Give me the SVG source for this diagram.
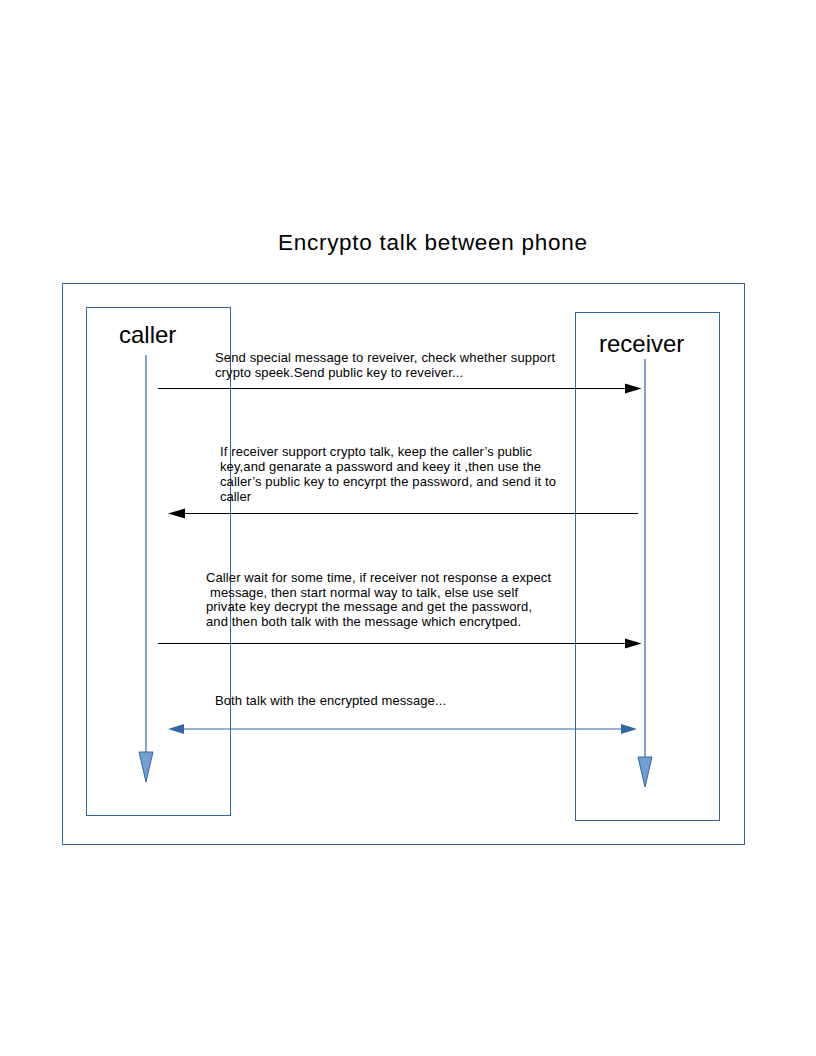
<svg xmlns="http://www.w3.org/2000/svg" width="816" height="1056" viewBox="0 0 816 1056">
<style>
.box{fill:none;stroke:#3465a4;stroke-width:1}
.life{stroke:#3465a4;stroke-width:1.2;fill:none}
.lhead{fill:#729fcf;stroke:#3465a4;stroke-width:1}
.msg{stroke:#000;stroke-width:1;fill:none}
.bmsg{stroke:#3465a4;stroke-width:1.2;fill:none}
.t{font-family:"Liberation Sans",Arial,sans-serif;fill:#000}
.s{font-size:13px}
.n{font-size:24px}
</style>
<rect width="816" height="1056" fill="#fff"/>
<text class="t" x="278" y="250" font-size="22.5" textLength="309" lengthAdjust="spacing">Encrypto talk between phone</text>
<g id="frame"><rect class="box" x="62.5" y="283.5" width="682" height="561"/></g>
<g id="caller">
<rect class="box" x="86.5" y="307.5" width="144" height="508"/>
<text class="t n" x="119" y="343">caller</text>
</g>
<g id="receiver">
<rect class="box" x="575.5" y="312.5" width="144" height="508"/>
<text class="t n" x="599" y="352">receiver</text>
</g>
<g id="connectors">
<line class="life" x1="146" y1="355" x2="146" y2="752"/>
<polygon class="lhead" points="139,752 153,752 146,782"/>
<line class="life" x1="645" y1="359" x2="645" y2="757"/>
<polygon class="lhead" points="638,757 652,757 645,787"/>
<line class="msg" x1="158" y1="388.5" x2="626" y2="388.5"/>
<polygon points="625,383.5 641.5,388.5 625,393.5" fill="#000"/>
<line class="msg" x1="638" y1="513.5" x2="184" y2="513.5"/>
<polygon points="185,508.5 168,513.5 185,518.5" fill="#000"/>
<line class="msg" x1="158" y1="643.5" x2="626" y2="643.5"/>
<polygon points="625,638.5 641.5,643.5 625,648.5" fill="#000"/>
<line class="bmsg" x1="183" y1="729" x2="622" y2="729"/>
<polygon points="184,724 168,729 184,734" fill="#3465a4"/>
<polygon points="621,724 637,729 621,734" fill="#3465a4"/>
</g>
<g id="labels">
<text class="t s" x="215" y="362" textLength="340" lengthAdjust="spacing">Send special message to reveiver, check whether support</text>
<text class="t s" x="215" y="377" textLength="248" lengthAdjust="spacing">crypto speek.Send public key to reveiver...</text>
<text class="t s" x="220" y="456" textLength="312" lengthAdjust="spacing">If receiver support crypto talk, keep the caller’s public</text>
<text class="t s" x="220" y="471" textLength="321" lengthAdjust="spacing">key,and genarate a password and keey it ,then use the</text>
<text class="t s" x="220" y="486" textLength="336" lengthAdjust="spacing">caller’s public key to encyrpt the password, and send it to</text>
<text class="t s" x="220" y="501" textLength="31" lengthAdjust="spacing">caller</text>
<text class="t s" x="206" y="582" textLength="345" lengthAdjust="spacing">Caller wait for some time, if receiver not response a expect</text>
<text class="t s" x="210" y="596.5" textLength="308" lengthAdjust="spacing">message, then start normal way to talk, else use self</text>
<text class="t s" x="206" y="611" textLength="326" lengthAdjust="spacing">private key decrypt the message and get the password,</text>
<text class="t s" x="206" y="625.5" textLength="315" lengthAdjust="spacing">and then both talk with the message which encrytped.</text>
<text class="t s" x="215" y="705" textLength="231" lengthAdjust="spacing">Both talk with the encrypted message...</text>
</g>
</svg>
